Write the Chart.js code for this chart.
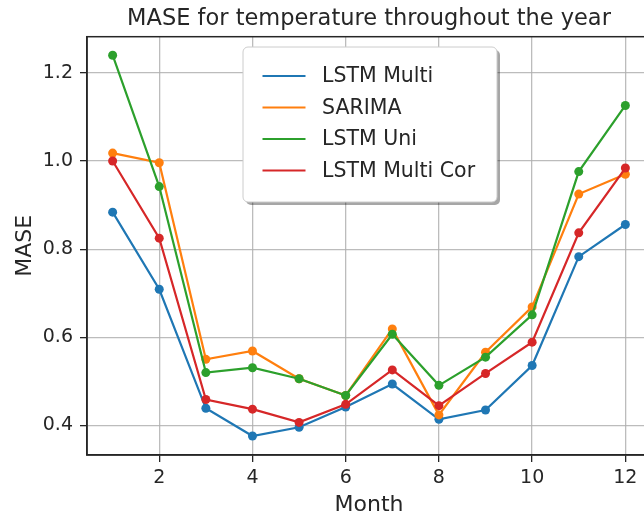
<!DOCTYPE html>
<html>
<head>
<meta charset="utf-8">
<script src="https://cdn.jsdelivr.net/npm/chart.js@4/dist/chart.umd.min.js"></script>
<style>
  html, body { margin: 0; padding: 0; background: #ffffff; overflow: hidden; }
  #wrap { width: 660px; height: 514px; }
</style>
</head>
<body>
<div id="wrap"><canvas id="c" width="660" height="514"></canvas></div>
<script>
// Monthly MASE of each temperature forecasting model
const months = [1, 2, 3, 4, 5, 6, 7, 8, 9, 10, 11, 12];
const lstmMulti    = [0.884, 0.709, 0.439, 0.376, 0.396, 0.442, 0.494, 0.414, 0.435, 0.536, 0.783, 0.856];
const sarima       = [1.018, 0.996, 0.550, 0.569, 0.506, 0.468, 0.619, 0.424, 0.566, 0.669, 0.925, 0.970];
const lstmUni      = [1.240, 0.942, 0.520, 0.531, 0.506, 0.468, 0.607, 0.491, 0.555, 0.651, 0.976, 1.126];
const lstmMultiCor = [1.000, 0.825, 0.459, 0.437, 0.407, 0.448, 0.526, 0.445, 0.518, 0.589, 0.837, 0.984];

const seriesNames = ['LSTM Multi', 'SARIMA', 'LSTM Uni', 'LSTM Multi Cor'];
const xTicks = [2, 4, 6, 8, 10, 12];
const yTicks = [0.4, 0.6, 0.8, 1.0, 1.2];

const colors = ['#1f77b4', '#ff7f0e', '#2ca02c', '#d62728'];
const seriesValues = [lstmMulti, sarima, lstmUni, lstmMultiCor];

const TEXT = '#262626';
const FONT = 'DejaVu Sans';

const datasets = seriesValues.map((vals, i) => ({
  label: seriesNames[i],
  data: months.map((m, k) => ({ x: m, y: vals[k] })),
  borderColor: colors[i],
  backgroundColor: colors[i],
  pointBackgroundColor: colors[i],
  pointBorderColor: colors[i],
  pointBorderWidth: 0,
  pointRadius: 4.5,
  borderWidth: 2.2,
  tension: 0,
  order: seriesValues.length - 1 - i
}));

// Frame on all four sides plus a boxed legend with drop shadow
const framePlugin = {
  id: 'frameAndLegend',
  afterDraw(chart) {
    const { ctx, chartArea: a } = chart;
    ctx.save();
    ctx.strokeStyle = TEXT;
    ctx.lineWidth = 1.5;
    ctx.strokeRect(a.left, a.top, a.right - a.left, a.bottom - a.top);

    // legend box
    const bx = 243, by = 47, bw = 254, bh = 155, r = 5;
    const rr = (x, y, w, h) => {
      ctx.beginPath();
      ctx.moveTo(x + r, y);
      ctx.arcTo(x + w, y, x + w, y + h, r);
      ctx.arcTo(x + w, y + h, x, y + h, r);
      ctx.arcTo(x, y + h, x, y, r);
      ctx.arcTo(x, y, x + w, y, r);
      ctx.closePath();
    };
    ctx.fillStyle = 'rgba(0,0,0,0.35)';
    rr(bx + 3, by + 3, bw, bh);
    ctx.fill();
    ctx.fillStyle = '#ffffff';
    rr(bx, by, bw, bh);
    ctx.fill();
    ctx.strokeStyle = '#cccccc';
    ctx.lineWidth = 1;
    ctx.stroke();

    ctx.font = '20.5px "' + FONT + '"';
    ctx.textBaseline = 'middle';
    ctx.textAlign = 'left';
    chart.data.datasets.forEach((ds, i) => {
      const y = 76 + i * 31.5;
      ctx.strokeStyle = ds.borderColor;
      ctx.lineWidth = 2.2;
      ctx.beginPath();
      ctx.moveTo(262.5, y);
      ctx.lineTo(305.5, y);
      ctx.stroke();
      ctx.fillStyle = TEXT;
      ctx.fillText(ds.label, 322, y + 1);
    });
    ctx.restore();
  }
};

new Chart(document.getElementById('c'), {
  type: 'line',
  data: { datasets },
  options: {
    responsive: false,
    animation: false,
    devicePixelRatio: 1,
    layout: { padding: { top: 0, right: 9, bottom: 0, left: 0 } },
    plugins: {
      legend: { display: false },
      tooltip: { enabled: false },
      title: {
        display: true,
        text: 'MASE for temperature throughout the year',
        fullSize: false,
        color: TEXT,
        font: { family: FONT, size: 22.5, weight: 'normal', lineHeight: 1.2 },
        padding: { top: 6, bottom: 3.7 }
      }
    },
    scales: {
      x: {
        type: 'linear',
        min: 0.45,
        max: 12.55,
        afterBuildTicks: s => { s.ticks = xTicks.map(v => ({ value: v })); },
        afterFit: s => { s.height = 59; },
        ticks: {
          color: TEXT,
          font: { family: FONT, size: 19 },
          padding: 5,
          maxRotation: 0,
          includeBounds: false
        },
        grid: {
          color: 'rgba(176,176,176,0.85)',
          lineWidth: 1.3,
          tickColor: TEXT,
          tickLength: 7,
          tickWidth: 1.3
        },
        border: { color: TEXT, width: 1.5 },
        title: {
          display: true,
          text: 'Month',
          color: TEXT,
          font: { family: FONT, size: 22, lineHeight: 0.8 },
          padding: { top: 0, bottom: 0 }
        }
      },
      y: {
        type: 'linear',
        min: 0.333,
        max: 1.282,
        afterBuildTicks: s => { s.ticks = yTicks.map(v => ({ value: v })); },
        afterFit: s => { s.width = 87; },
        ticks: {
          color: TEXT,
          font: { family: FONT, size: 19 },
          padding: 7,
          callback: v => Number(v).toFixed(1)
        },
        grid: {
          color: 'rgba(176,176,176,0.85)',
          lineWidth: 1.3,
          tickColor: TEXT,
          tickLength: 7,
          tickWidth: 1.3
        },
        border: { color: TEXT, width: 1.5 },
        title: {
          display: true,
          text: 'MASE',
          color: TEXT,
          font: { family: FONT, size: 22, lineHeight: 1 },
          padding: { top: 14.5, bottom: 0 }
        }
      }
    }
  },
  plugins: [framePlugin]
});
</script>
</body>
</html>
